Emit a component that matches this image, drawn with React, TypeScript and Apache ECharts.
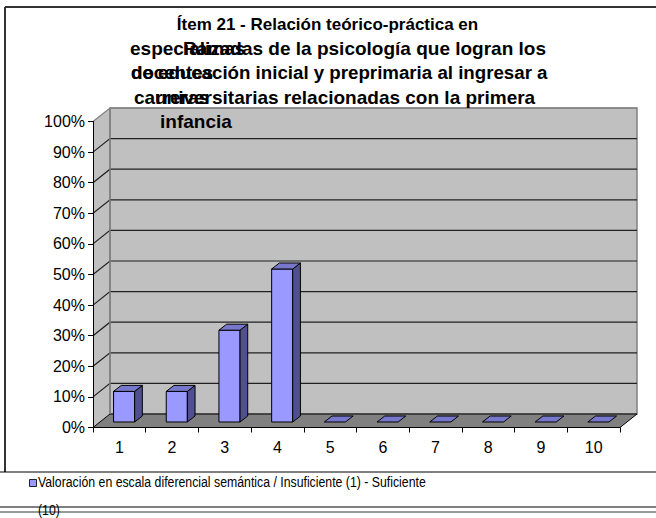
import React, { useEffect, useRef } from "react";
import * as echarts from "echarts";

// ---- data ----
const categories = ["1", "2", "3", "4", "5", "6", "7", "8", "9", "10"];
const values = [10, 10, 30, 50, 0, 0, 0, 0, 0, 0];
const yGridValues = [0, 10, 20, 30, 40, 50, 60, 70, 80, 90, 100];
const seriesName =
  "Valoración en escala diferencial semántica / Insuficiente (1) - Suficiente (10)";
const legendLine1 = "Valoración en escala diferencial semántica / Insuficiente (1) - Suficiente";
const legendLine2 = "(10)";
const titleLine1 = "Ítem 21 - Relación teórico-práctica en";
const titleLine2a = "especializadas de la psicología que logran los";
const titleLine2b = "Ramas";
const titleLine3a = "de educación inicial y preprimaria al ingresar a";
const titleLine3b = "docentes";
const titleLine4a = "universitarias relacionadas con la primera";
const titleLine4b = "carreras";
const titleLine5 = "infancia";

// ---- style constants ----
const DX = 17;
const DY = -13.5;
const FONT = "'Liberation Sans', Arial, sans-serif";

export default function App() {
  const ref = useRef<HTMLDivElement>(null);

  useEffect(() => {
    if (!ref.current) return;
    const chart = echarts.init(ref.current, undefined, { renderer: "svg" });

    const titleStyle = (text: string, size = 19) => ({
      text,
      fill: "#000",
      font: `bold ${size}px ${FONT}`,
      verticalAlign: "middle" as const,
    });

    const option: any = {
      animation: false,
      backgroundColor: "#fff",
      grid: { left: 93, right: 36, top: 121.5, bottom: 90.5 },
      xAxis: {
        type: "category",
        data: categories,
        boundaryGap: true,
        z: 10,
        axisLine: { show: true, lineStyle: { color: "#000", width: 1 } },
        axisTick: { show: true, length: 5, lineStyle: { color: "#000" } },
        axisLabel: { fontSize: 16, color: "#000", margin: 12, fontFamily: FONT },
        splitLine: { show: false },
      },
      yAxis: {
        type: "value",
        min: 0,
        max: 100,
        interval: 10,
        z: 10,
        axisLine: { show: true, lineStyle: { color: "#000", width: 1 } },
        axisTick: { show: true, length: 5, lineStyle: { color: "#000" } },
        axisLabel: {
          formatter: "{value}%",
          fontSize: 16,
          color: "#000",
          margin: 8,
          fontFamily: FONT,
        },
        splitLine: { show: false },
      },
      series: [
        {
          type: "custom",
          name: "walls",
          silent: true,
          clip: false,
          z: 1,
          data: [[0, 0]],
          renderItem: (params: any, api: any) => {
            const cs = params.coordSys;
            const x0 = cs.x;
            const x1 = cs.x + cs.width;
            const yT = cs.y;
            const yB = cs.y + cs.height;
            const children: any[] = [
              {
                type: "polygon",
                shape: { points: [[x0, yT], [x0 + DX, yT + DY], [x0 + DX, yB + DY], [x0, yB]] },
                style: { fill: "#C0C0C0", stroke: null },
              },
              {
                type: "rect",
                shape: { x: x0 + DX, y: yT + DY, width: cs.width, height: cs.height },
                style: { fill: "#C0C0C0", stroke: "#808080", lineWidth: 1.5 },
              },
              {
                type: "polygon",
                shape: { points: [[x0, yB], [x1, yB], [x1 + DX, yB + DY], [x0 + DX, yB + DY]] },
                style: { fill: "#808080", stroke: "#000", lineWidth: 1 },
              },
            ];
            yGridValues.forEach((v) => {
              if (v === 0) return;
              const y = api.coord([0, v])[1];
              children.push({
                type: "polyline",
                shape: { points: [[x0, y], [x0 + DX, y + DY], [x1 + DX, y + DY]] },
                style: { fill: null, stroke: v === 100 ? "#808080" : "#202020", lineWidth: 1.2 },
              });
            });
            children.push({
              type: "line",
              shape: { x1: x0 + DX, y1: yT + DY, x2: x0 + DX, y2: yB + DY },
              style: { stroke: "#808080", lineWidth: 1.5 },
            });
            return { type: "group", children };
          },
        },
        {
          type: "custom",
          name: seriesName,
          clip: false,
          z: 3,
          data: categories.map((c, i) => [i, values[i]]),
          encode: { x: 0, y: 1 },
          renderItem: (params: any, api: any) => {
            const i = api.value(0);
            const v = api.value(1);
            const p0 = api.coord([i, 0]);
            const p1 = api.coord([i, v]);
            const band = api.size([1, 0])[0];
            const w = band * 0.4;
            const cx = p0[0] + band * 0.09;
            const by = p0[1] - 5.5;
            const ty = p1[1] - 5.5;
            const bdx = 7.7;
            const bdy = -6;
            const L = cx - w / 2;
            const R = cx + w / 2;
            const line = { stroke: "#000", lineWidth: 1, lineJoin: "round" };
            const children: any[] = [];
            if (v > 0) {
              children.push({
                type: "polygon",
                shape: { points: [[L, ty], [R, ty], [R, by], [L, by]] },
                style: { fill: "#9999FF", ...line },
              });
              children.push({
                type: "polygon",
                shape: { points: [[R, ty], [R + bdx, ty + bdy], [R + bdx, by + bdy], [R, by]] },
                style: { fill: "#505090", ...line },
              });
            }
            children.push({
              type: "polygon",
              shape: { points: [[L, ty], [R, ty], [R + bdx, ty + bdy], [L + bdx, ty + bdy]] },
              style: { fill: "#7777CC", ...line },
            });
            return { type: "group", children };
          },
        },
      ],
      graphic: [
        // outer frame
        { type: "line", z: 100, shape: { x1: 5, y1: 7, x2: 656, y2: 7 }, style: { stroke: "#333", lineWidth: 2 } },
        { type: "line", z: 100, shape: { x1: 5, y1: 7, x2: 5, y2: 472 }, style: { stroke: "#333", lineWidth: 2 } },
        // legend box
        { type: "line", z: 100, shape: { x1: 0, y1: 472, x2: 656, y2: 472 }, style: { stroke: "#000", lineWidth: 1 } },
        { type: "line", z: 100, shape: { x1: 0, y1: 507, x2: 656, y2: 507 }, style: { stroke: "#000", lineWidth: 1 } },
        { type: "line", z: 100, shape: { x1: 0, y1: 512, x2: 656, y2: 512 }, style: { stroke: "#333", lineWidth: 1 } },
        // legend
        {
          type: "rect",
          z: 100,
          shape: { x: 29.5, y: 479.5, width: 7, height: 7 },
          style: { fill: "#9999FF", stroke: "#222", lineWidth: 1 },
        },
        {
          type: "text",
          z: 100,
          x: 38,
          y: 482,
          scaleX: 0.82,
          style: { text: legendLine1, fill: "#000", font: `15px ${FONT}`, verticalAlign: "middle" },
        },
        {
          type: "text",
          z: 100,
          x: 38,
          y: 510,
          scaleX: 0.82,
          style: { text: legendLine2, fill: "#000", font: `15px ${FONT}`, verticalAlign: "middle" },
        },
        // title
        { type: "text", z: 100, x: 327.5, y: 24.5, style: { ...titleStyle(titleLine1, 17), align: "center" } },
        { type: "text", z: 100, x: 130, y: 48.5, style: titleStyle(titleLine2a) },
        { type: "text", z: 100, x: 183, y: 48.5, style: titleStyle(titleLine2b) },
        { type: "text", z: 100, x: 131, y: 72.5, style: titleStyle(titleLine3a, 18.7) },
        { type: "text", z: 100, x: 131, y: 72.5, style: titleStyle(titleLine3b, 18.7) },
        { type: "text", z: 100, x: 155, y: 97.5, style: titleStyle(titleLine4a) },
        { type: "text", z: 100, x: 134, y: 97.5, style: titleStyle(titleLine4b) },
        { type: "text", z: 100, x: 160, y: 121.5, style: titleStyle(titleLine5) },
      ],
    };

    chart.setOption(option);
    return () => chart.dispose();
  }, []);

  return (
    <div
      ref={ref}
      style={{ position: "absolute", left: 0, top: 0, width: 656, height: 518, background: "#fff" }}
    />
  );
}
